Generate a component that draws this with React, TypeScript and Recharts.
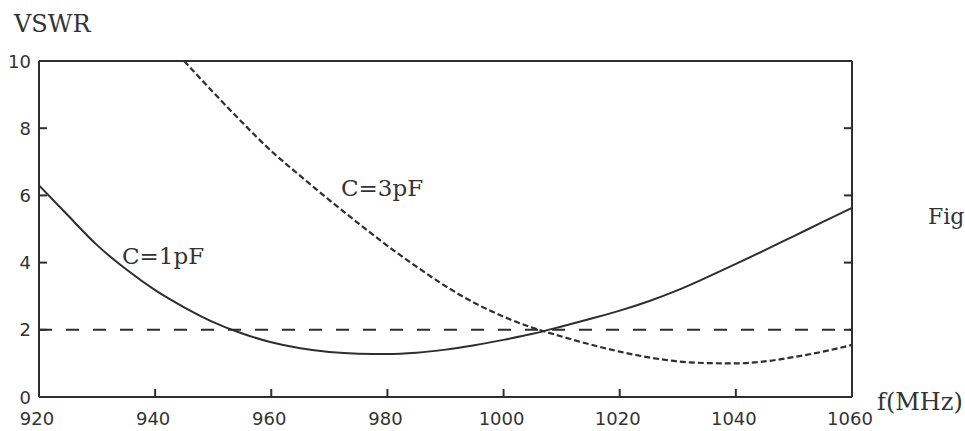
import React from "react";
import { LineChart, Line, XAxis, YAxis, ReferenceLine } from "recharts";

// frequency points (MHz)
const freqs = [
  920, 925, 930, 935, 940, 945, 950, 955, 960, 965, 970, 975, 980, 985, 990,
  995, 1000, 1005, 1010, 1015, 1020, 1025, 1030, 1035, 1040, 1045, 1050, 1055, 1060,
];

// VSWR for C = 1pF (solid)
const vswr1pF = [
  6.3, 5.4, 4.52, 3.8, 3.18, 2.67, 2.23, 1.89, 1.63, 1.45, 1.34, 1.29, 1.28, 1.32, 1.41,
  1.54, 1.7, 1.88, 2.1, 2.33, 2.57, 2.85, 3.18, 3.56, 3.96, 4.37, 4.79, 5.21, 5.63,
];

// VSWR for C = 3pF (dotted), off the top of the plot below 945 MHz
const vswr3pF = [
  null, null, null, null, null, 10.0, 9.07, 8.17, 7.32, 6.58, 5.86, 5.17, 4.5, 3.88, 3.3,
  2.8, 2.39, 2.06, 1.8, 1.56, 1.35, 1.18, 1.06, 1.01, 1.0, 1.06, 1.19, 1.35, 1.55,
];

const xTicks = [920, 940, 960, 980, 1000, 1020, 1040, 1060];
const yTicks = [0, 2, 4, 6, 8, 10];
const limitVswr = 2;

const data = freqs.map((f, i) => ({ f, c1: vswr1pF[i], c3: vswr3pF[i] }));

const ink = "#2e2e2e";
const tickFont = "'DejaVu Sans', sans-serif";
const serif = "'DejaVu Serif', serif";

const W = 965;
const H = 431;
const margin = { top: 60, right: 113, left: 0, bottom: 0 };
const yAxisW = 39;
const plotW = W - margin.right - yAxisW; // width of the framed plot

// left tick: label + inward mark; also draws the matching inward mark on the right frame
const LeftTick = (props: any) => {
  const { x, y, payload } = props;
  const v = Number(payload.value);
  const axisX = x + 8;
  const inner = v !== 0 && v !== 10;
  return (
    <g>
      {inner && (
        <>
          <line x1={axisX} x2={axisX + 8} y1={y} y2={y} stroke={ink} strokeWidth={2} />
          <line x1={axisX + plotW - 8} x2={axisX + plotW} y1={y} y2={y} stroke={ink} strokeWidth={2} />
        </>
      )}
      <text x={x} y={y + 6.5} textAnchor="end" fontSize={18} fontFamily={tickFont} fill="#333">
        {v}
      </text>
    </g>
  );
};

const BottomTick = (props: any) => {
  const { x, y, payload } = props;
  const v = Number(payload.value);
  return (
    <g>
      {v !== 920 && v !== 1060 && (
        <line x1={x} x2={x} y1={y} y2={y - 8} stroke={ink} strokeWidth={2} />
      )}
      <text x={x - 2} y={y + 28} textAnchor="middle" fontSize={18} fontFamily={tickFont} fill="#333">
        {v}
      </text>
    </g>
  );
};

const label = (left: number, top: number, size: number): React.CSSProperties => ({
  position: "absolute",
  left,
  top,
  fontFamily: serif,
  fontSize: size,
  color: "#333",
  lineHeight: 1,
  whiteSpace: "nowrap",
});

export default function App() {
  return (
    <div
      style={{
        position: "absolute",
        left: 0,
        top: 0,
        width: W,
        height: H,
        background: "#fff",
        overflow: "hidden",
      }}
    >
      <LineChart width={W} height={H} data={data} margin={margin}>
        <XAxis
          dataKey="f"
          type="number"
          domain={[920, 1060]}
          ticks={xTicks}
          height={34}
          tickSize={0}
          tickMargin={0}
          tickLine={false}
          axisLine={{ stroke: ink, strokeWidth: 2 }}
          tick={(p: any) => <BottomTick {...p} />}
        />
        <XAxis
          xAxisId="top"
          orientation="top"
          dataKey="f"
          type="number"
          domain={[920, 1060]}
          height={1}
          tick={false}
          tickLine={false}
          axisLine={{ stroke: ink, strokeWidth: 2 }}
        />
        <YAxis
          domain={[0, 10]}
          ticks={yTicks}
          width={yAxisW}
          tickSize={0}
          tickMargin={8}
          tickLine={false}
          allowDataOverflow
          axisLine={{ stroke: ink, strokeWidth: 2 }}
          tick={(p: any) => <LeftTick {...p} />}
        />
        <ReferenceLine x={1060} stroke={ink} strokeWidth={2} />
        <ReferenceLine y={limitVswr} stroke={ink} strokeWidth={2} strokeDasharray="13 14" />
        <Line
          type="monotone"
          dataKey="c1"
          stroke={ink}
          strokeWidth={2}
          dot={false}
          isAnimationActive={false}
        />
        <Line
          type="monotone"
          dataKey="c3"
          stroke={ink}
          strokeWidth={2.2}
          strokeDasharray="6 3"
          dot={false}
          isAnimationActive={false}
        />
      </LineChart>
      <div style={label(14, 12, 24)}>VSWR</div>
      <div style={label(122, 245, 23)}>C=1pF</div>
      <div style={label(341, 177, 23)}>C=3pF</div>
      <div style={label(877, 390, 24)}>f(MHz)</div>
      <div style={label(928, 206, 22)}>Fig</div>
    </div>
  );
}
